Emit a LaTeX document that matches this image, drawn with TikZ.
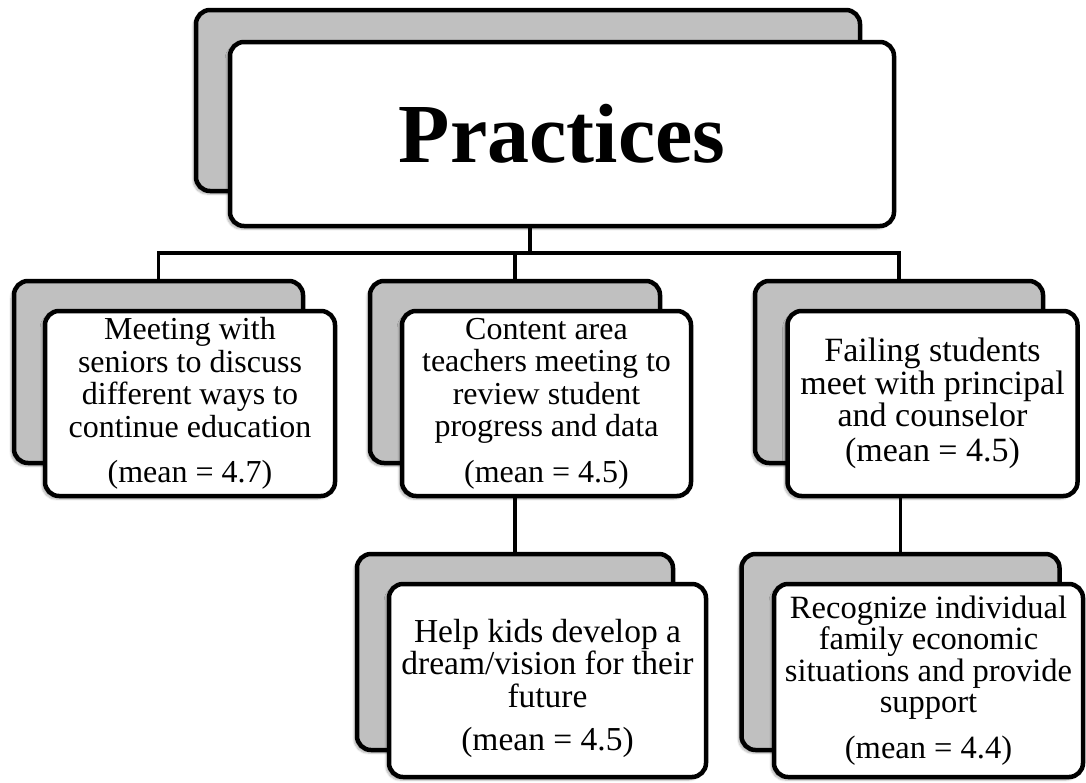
\documentclass[tikz,border=0pt]{standalone}
\usepackage{fontspec}
\setmainfont{Liberation Serif}
\usetikzlibrary{positioning, shadows.blur}
\definecolor{boxGray}{HTML}{C0C0C0}

\begin{document}
\begin{tikzpicture}[x=1pt, y=-1pt,
    backbox/.style={rectangle, rounded corners=14pt, draw=black, line width=4.5pt, fill=boxGray,
      blur shadow={shadow xshift=-3pt, shadow yshift=-3pt, shadow opacity=30, shadow blur steps=6}},
    frontbox/.style={backbox, fill=white, inner sep=0pt, align=center,
      font=\fontsize{32}{32.5}\selectfont},
    conn/.style={line width=3.4pt}
  ]
  \useasboundingbox (0,0) rectangle (1086,782);

  % title
  \node[backbox, minimum width=664pt, minimum height=181pt] (topback) at (528,100.5) {};
  \node[frontbox, minimum width=664pt, minimum height=184pt,
    font=\fontsize{84}{84}\selectfont\bfseries] (topfront) at (562,134) {Practices};

  % first row
  \node[backbox, minimum width=289pt, minimum height=182pt] (b1) at (158.5,372) {};
  \node[frontbox, minimum width=290pt, minimum height=185pt] (f1) at (190,403.5)
    {Meeting with\\seniors to discuss\\different ways to\\continue education\\[13pt](mean = 4.7)};
  \node[backbox, minimum width=290pt, minimum height=182pt] (b2) at (515,372) {};
  \node[frontbox, minimum width=289pt, minimum height=185pt] (f2) at (546.5,403.5)
    {Content area\\teachers meeting to\\review student\\progress and data\\[13pt](mean = 4.5)};
  \node[backbox, minimum width=288pt, minimum height=182pt] (b3) at (899,372) {};
  \node[frontbox, minimum width=290pt, minimum height=185pt,
    font=\fontsize{34}{32.5}\selectfont] (f3) at (932.5,403.5)
    {Failing students\\meet with principal\\and counselor\\[2pt](mean = 4.5)};

  % second row
  \node[backbox, minimum width=316pt, minimum height=196pt] (b4) at (515,652) {};
  \node[frontbox, minimum width=317pt, minimum height=193pt,
    font=\fontsize{33.5}{32.5}\selectfont] (f4) at (547.5,680.5)
    {\rule{0pt}{39pt}Help kids develop a\\dream/vision for their\\future\\[11pt](mean = 4.5)};
  \node[backbox, minimum width=318pt, minimum height=196pt] (b5) at (900.5,652) {};
  \node[frontbox, minimum width=309pt, minimum height=193pt,
    font=\fontsize{32.5}{31.5}\selectfont] (f5) at (928.5,680.5)
    {Recognize individual\\family economic\\situations and provide\\support\\[14pt](mean = 4.4)};

  % connectors
  \coordinate (hub) at (530,253);
  \draw[conn] (topfront.south -| hub) -- (hub);
  \draw[conn] (b1.north) |- (hub) -| (b3.north);
  \draw[conn] (b2.north) -- (b2.north |- hub);
  \draw[conn] (b2.north |- f2.south) -- (b4.north);
  \draw[conn] (b5.north |- f3.south) -- (b5.north);
\end{tikzpicture}
\end{document}
